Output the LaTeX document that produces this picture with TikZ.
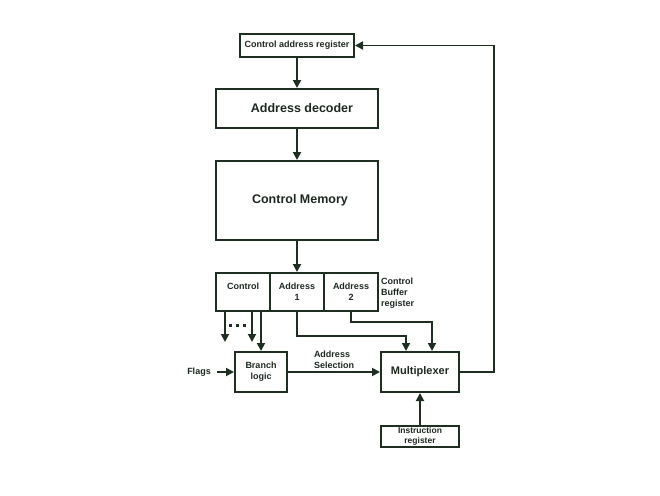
\documentclass[tikz,border=0pt]{standalone}
\usepackage{fontspec}
\setmainfont{Liberation Sans}
\usetikzlibrary{arrows.meta}
\definecolor{boxline}{RGB}{30,46,32}
\definecolor{boxtext}{RGB}{30,40,32}

\begin{document}
\begin{tikzpicture}[x=1pt, y=-1pt,
  box/.style={draw=boxline, line width=2pt, inner sep=0pt, align=center, text=boxtext, font=\bfseries\fontsize{9}{11}\selectfont},
  bigbox/.style={box, font=\bfseries\fontsize{12.5}{15}\selectfont},
  arr/.style={draw=boxline, line width=1.8pt, -{Triangle[length=8pt,width=8pt]}},
  lbl/.style={inner sep=0pt, align=left, text=boxtext, font=\bfseries\fontsize{9}{11}\selectfont}]
%\draw [help lines] (0,0) grid (660,495);
\useasboundingbox (0,0) rectangle (660,495);

\node [box, minimum width=114pt, minimum height=23pt] (car) at (297,45.5) {Control address register};
\node [bigbox, minimum width=162pt, minimum height=39pt] (dec) at (297,108.5) {\hspace{10pt}Address decoder};
\node [bigbox, minimum width=162pt, minimum height=79pt] (mem) at (297,200.5) {\hspace{6pt}Control Memory};

\node [box, minimum width=54pt, minimum height=38pt] (ctl) at (243,292) {Control\\\phantom{1}};
\node [box, minimum width=54pt, minimum height=38pt] (adr1) at (297,292) {Address\\1};
\node [box, minimum width=54pt, minimum height=38pt] (adr2) at (351,292) {Address\\2};
\node [lbl, anchor=west] (cbr) at (381,293) {Control\\Buffer\\register};

\node [box, minimum width=52pt, minimum height=40pt] (branch) at (261,372) {Branch\\logic};
\node [box, minimum width=78pt, minimum height=40pt, font=\bfseries\fontsize{11}{13}\selectfont] (mux) at (420,372) {Multiplexer};
\node [box, minimum width=78pt, minimum height=21pt, font=\bfseries\fontsize{8.5}{9.5}\selectfont] (ir) at (420,436.5) {Instruction\\register};

\node [lbl] (flags) at (199,372) {Flags};
\node [lbl] (sel) at (334,359.5) {Address\\Selection};

\draw [arr] (car) -- (dec);
\draw [arr] (dec) -- (mem);
\draw [arr] (mem) -- (adr1);

% control field
\coordinate (c1) at (225,342);
\coordinate (c2) at (252,342);
\draw [arr] (ctl.south -| c1) -- (c1);
\draw [arr] (ctl.south -| c2) -- (c2);
\draw [arr] (ctl.south -| branch.north) -- (branch.north);
\draw [boxline, line width=3pt, dash pattern=on 3pt off 4pt] (229,325) -- (249,325);

% address fields
\coordinate (m1) at (406,336);
\coordinate (m2) at (432,322);
\draw [arr] (adr1.south) |- (m1) -- (m1 |- mux.north);
\draw [arr] (adr2.south) |- (m2) -- (m2 |- mux.north);

\draw [arr] ([xshift=6pt]flags.east |- branch.west) -- (branch.west);
\draw [arr] (branch.east) -- (mux.west);
\draw [arr] (ir) -- (mux);

\coordinate (fb) at (494,45.5);
\draw [arr] (mux.east) -| (fb) -- (car.east);

\end{tikzpicture}
\end{document}
